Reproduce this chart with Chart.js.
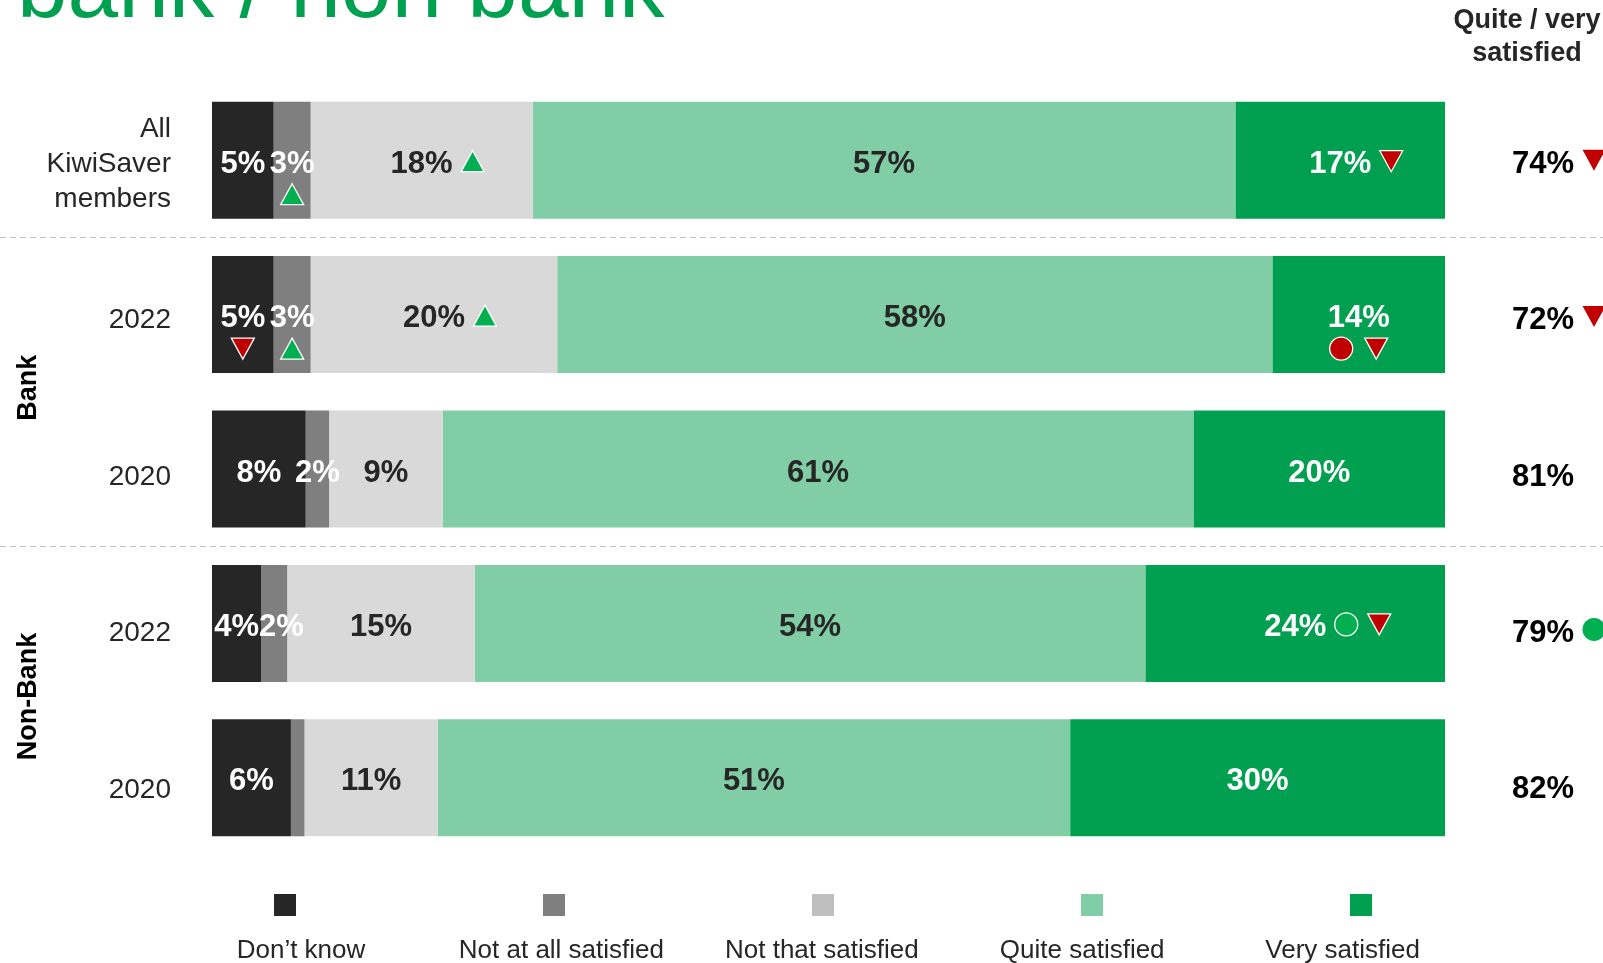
<!DOCTYPE html>
<html>
<head>
<meta charset="utf-8">
<script src="https://cdn.jsdelivr.net/npm/chart.js@4.4.1/dist/chart.umd.min.js"></script>
<style>
  html, body { margin: 0; padding: 0; background: #fff; }
  #wrap { width: 1603px; height: 963px; }
</style>
</head>
<body>
<div id="wrap"><canvas id="chart" width="1603" height="963"></canvas></div>
<script>
/* ===== Satisfaction by provider type ===== */

const categories = [['All', 'KiwiSaver', 'members'], '2022', '2020', '2022', '2020'];
const groups = [
  { name: 'Bank', rows: [1, 2] },
  { name: 'Non-Bank', rows: [3, 4] }
];

const seriesNames = ['Don\u2019t know', 'Not at all satisfied', 'Not that satisfied', 'Quite satisfied', 'Very satisfied'];
const dontKnow = [5, 5, 7.6, 4, 6.4];
const notAtAll = [3, 3, 1.9, 2.1, 1.1];
const notThat = [18, 20, 9.2, 15.2, 10.8];
const quite = [57, 58, 60.9, 54.4, 51.3];
const very = [17, 14, 20.4, 24.3, 30.4];

// Quite / very satisfied totals shown right of each bar
const totals = [74, 72, 81, 79, 82];

// Significance markers: triangles / dots, green = higher, red = lower
const sigDontKnow = [null, ['downTri'], null, null, null];
const sigNotAtAll = [['upTri'], ['upTri'], null, null, null];
const sigNotThat = [['upTri'], ['upTri'], null, null, null];
const sigQuite = [null, null, null, null, null];
const sigVery = [['downTri'], ['downDot', 'downTri'], null, ['upDot', 'downTri'], null];
const totalMarks = ['downTri', 'downTri', null, 'upDot', null];

const barColors = ['#262626', '#7F7F7F', '#D9D9D9', '#80CDA6', '#00A050'];
const legendColors = ['#262626', '#7F7F7F', '#BFBFBF', '#80CDA6', '#00A050'];
const valueColors = ['#FFFFFF', '#FFFFFF', '#262626', '#262626', '#FFFFFF'];

const FONT = '"Liberation Sans", Arial, sans-serif';
const seriesData = [dontKnow, notAtAll, notThat, quite, very];
const seriesSig = [sigDontKnow, sigNotAtAll, sigNotThat, sigQuite, sigVery];

function drawMark(ctx, type, x, y, outline) {
  const w = 23, h = 21, r = 11.5;
  ctx.save();
  ctx.beginPath();
  if (type === 'upTri') {
    ctx.moveTo(x, y - h / 2); ctx.lineTo(x + w / 2, y + h / 2); ctx.lineTo(x - w / 2, y + h / 2);
    ctx.closePath();
    ctx.fillStyle = '#00B050';
  } else if (type === 'downTri') {
    ctx.moveTo(x - w / 2, y - h / 2); ctx.lineTo(x + w / 2, y - h / 2); ctx.lineTo(x, y + h / 2);
    ctx.closePath();
    ctx.fillStyle = '#C00000';
  } else if (type === 'downDot') {
    ctx.arc(x, y, r, 0, Math.PI * 2);
    ctx.fillStyle = '#C00000';
  } else {
    ctx.arc(x, y, r, 0, Math.PI * 2);
    ctx.fillStyle = '#00B050';
  }
  ctx.fill();
  if (outline) {
    ctx.lineWidth = 1.3;
    ctx.strokeStyle = '#FFFFFF';
    ctx.stroke();
  }
  ctx.restore();
}

// separators, titles, category text, value labels, markers and legend
const decorations = {
  id: 'decorations',
  beforeDatasetsDraw(chart) {
    const { ctx, scales: { y } } = chart;
    ctx.save();
    ctx.strokeStyle = '#BFBFBF';
    ctx.lineWidth = 1;
    ctx.setLineDash([6, 4]);
    groups.forEach(g => {
      const yy = Math.round((y.getPixelForValue(g.rows[0] - 1) + y.getPixelForValue(g.rows[0])) / 2) + 0.5;
      ctx.beginPath();
      ctx.moveTo(0, yy);
      ctx.lineTo(chart.width, yy);
      ctx.stroke();
    });
    ctx.restore();
  },
  afterDatasetsDraw(chart) {
    const { ctx, chartArea: area, scales: { y } } = chart;
    ctx.save();

    // page title, cut by the top edge
    ctx.fillStyle = '#00A050';
    ctx.font = '91px ' + FONT;
    ctx.textAlign = 'left';
    ctx.textBaseline = 'alphabetic';
    ctx.fillText('bank / non bank', 17, 17);

    // totals column header
    ctx.fillStyle = '#262626';
    ctx.font = 'bold 27px ' + FONT;
    ctx.textAlign = 'center';
    ctx.fillText('Quite / very', area.right + 82, 28);
    ctx.fillText('satisfied', area.right + 82, 61);

    // category labels and totals
    categories.forEach((cat, i) => {
      const cy = y.getPixelForValue(i) + i * 2 + 4;
      ctx.fillStyle = '#262626';
      ctx.font = '28px ' + FONT;
      ctx.textAlign = 'right';
      ctx.textBaseline = 'middle';
      const lines = Array.isArray(cat) ? cat : [cat];
      lines.forEach((ln, k) => {
        ctx.fillText(ln, area.left - 41, cy + (k - (lines.length - 1) / 2) * 35);
      });

      ctx.fillStyle = '#000000';
      ctx.font = 'bold 31px ' + FONT;
      ctx.textAlign = 'center';
      const tx = area.right + 98;
      const label = totals[i] + '%';
      ctx.fillText(label, tx, cy);
      if (totalMarks[i]) {
        const tw = ctx.measureText(label).width;
        drawMark(ctx, totalMarks[i], tx + tw / 2 + 20, cy - 4, false);
      }
    });

    // group names, rotated
    ctx.fillStyle = '#000000';
    ctx.font = 'bold 27px ' + FONT;
    groups.forEach(g => {
      const gy = (y.getPixelForValue(g.rows[0]) + y.getPixelForValue(g.rows[1])) / 2 - 4;
      ctx.save();
      ctx.translate(29, gy);
      ctx.rotate(-Math.PI / 2);
      ctx.textAlign = 'center';
      ctx.textBaseline = 'middle';
      ctx.fillText(g.name, 0, 0);
      ctx.restore();
    });

    // value labels inside the bars
    ctx.font = 'bold 31px ' + FONT;
    ctx.textAlign = 'center';
    ctx.textBaseline = 'middle';
    categories.forEach((cat, j) => {
      let lastRight = -Infinity;
      seriesData.forEach((arr, d) => {
        const v = Math.round(arr[j]);
        if (v < 2) return;
        const bar = chart.getDatasetMeta(d).data[j];
        const label = v + '%';
        const tw = ctx.measureText(label).width;
        let cx = (bar.x + bar.base) / 2;
        if (cx - tw / 2 < lastRight) cx = lastRight + tw / 2;
        lastRight = cx + tw / 2;
        const cy = bar.y + 4;
        ctx.fillStyle = valueColors[d];
        ctx.fillText(label, cx, cy);

        const marks = seriesSig[d][j];
        if (!marks) return;
        const half = (bar.x - bar.base) / 2;
        const need = tw / 2 + 20 + (marks.length - 1) * 33 + 12;
        if (need <= half) {
          marks.forEach((m, k) => drawMark(ctx, m, cx + tw / 2 + 20 + k * 33, cy - 3, true));
        } else {
          marks.forEach((m, k) => drawMark(ctx, m, cx - (marks.length - 1) * 35 / 2 + k * 35, cy + 30, true));
        }
      });
    });

    // legend: swatch above, name below
    seriesNames.forEach((name, i) => {
      const sx = area.left + 73 + i * 269;
      ctx.fillStyle = legendColors[i];
      ctx.fillRect(sx - 11, 894, 22, 22);
      ctx.fillStyle = '#262626';
      ctx.font = '26px ' + FONT;
      ctx.textAlign = 'center';
      ctx.textBaseline = 'middle';
      ctx.fillText(name, area.left + 89 + i * 260.4, 951);
    });

    ctx.restore();
  }
};

Chart.defaults.font.family = FONT;

new Chart(document.getElementById('chart'), {
  type: 'bar',
  data: {
    labels: categories.map(c => Array.isArray(c) ? c.join(' ') : c),
    datasets: seriesData.map((arr, i) => ({
      label: seriesNames[i],
      data: arr,
      backgroundColor: barColors[i],
      borderWidth: 0,
      barPercentage: 0.758,
      categoryPercentage: 1
    }))
  },
  options: {
    indexAxis: 'y',
    responsive: false,
    animation: false,
    layout: { padding: { left: 212, right: 158, top: 83, bottom: 108 } },
    plugins: {
      legend: { display: false },
      tooltip: { enabled: false }
    },
    scales: {
      x: { stacked: true, min: 0, max: 100, display: false },
      y: { stacked: true, display: false }
    }
  },
  plugins: [decorations]
});
</script>
</body>
</html>
